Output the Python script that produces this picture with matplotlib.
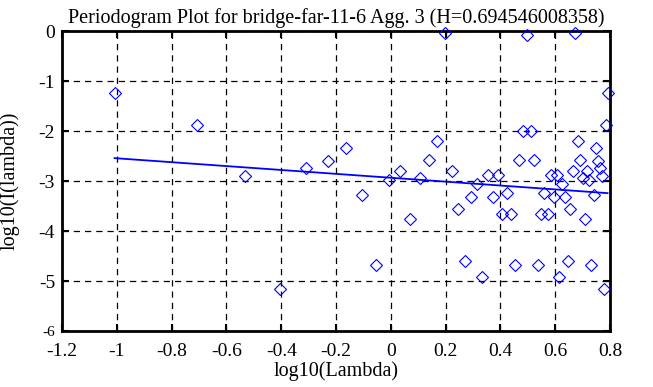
import numpy as np
import matplotlib
matplotlib.use("Agg")
import matplotlib.pyplot as plt

# periodogram values (log10 lambda, log10 I(lambda))
log_lambda = [-1.008, -0.707, -0.531, -0.406, -0.309, -0.230, -0.163, -0.105,
              -0.054, -0.008, 0.033, 0.071, 0.106, 0.138, 0.168, 0.196,
              0.222, 0.247, 0.271, 0.293, 0.314, 0.334, 0.354, 0.372,
              0.390, 0.407, 0.423, 0.439, 0.454, 0.469, 0.483, 0.497,
              0.510, 0.523, 0.536, 0.548, 0.560, 0.572, 0.583, 0.594,
              0.605, 0.615, 0.625, 0.635, 0.645, 0.655, 0.664, 0.673,
              0.682, 0.691, 0.700, 0.708, 0.716, 0.724, 0.732, 0.740,
              0.748, 0.755, 0.763, 0.770, 0.777, 0.784, 0.791]
log_I = [-1.23, -1.87, -2.90, -5.15, -2.73, -2.59, -2.33, -3.28,
         -4.68, -2.98, -2.79, -3.76, -2.93, -2.57, -2.19, -0.03,
         -2.80, -3.56, -4.59, -3.31, -3.06, -4.91, -2.87, -3.31,
         -2.87, -3.65, -3.23, -3.65, -4.67, -2.57, -2.00, -0.08,
         -2.00, -2.57, -4.67, -3.65, -3.23, -3.65, -2.87, -3.31,
         -2.87, -4.91, -3.06, -3.31, -4.59, -3.56, -2.80, -0.03,
         -2.19, -2.57, -2.93, -3.76, -2.79, -2.98, -4.68, -3.28,
         -2.33, -2.59, -2.73, -2.90, -5.15, -1.87, -1.23]
hurst = 0.694546008358
fit_intercept = -2.935

x_ticks = [-1.2, -1, -0.8, -0.6, -0.4, -0.2, 0, 0.2, 0.4, 0.6, 0.8]
x_tick_labels = ["-1.2", "-1", "-0.8", "-0.6", "-0.4", "-0.2", "0", "0.2", "0.4", "0.6", "0.8"]
y_ticks = [-6, -5, -4, -3, -2, -1, 0]
y_tick_labels = ["-6", "-5", "-4", "-3", "-2", "-1", "0"]

plt.rcParams['font.family'] = ['Liberation Serif', 'DejaVu Serif']

fig = plt.figure(figsize=(6.53, 3.87), dpi=100)
ax = fig.add_axes([62/653, 1-331/387, 548/653, 300/387])

x = np.array(log_lambda)
y = np.array(log_I)

# fitted line, slope from H
slope = 1 - 2*hurst
fit_x = np.array([x.min(), x.max()])
ax.plot(fit_x, fit_intercept + slope*fit_x, color="#0000ff", lw=1.3, zorder=3)

ax.plot(x, y, linestyle="none", marker="D", markersize=6.6,
        markerfacecolor="none", markeredgecolor="#0000ff", markeredgewidth=0.8,
        zorder=4, clip_on=False)

ax.set_xlim(-1.2, 0.8)
ax.set_ylim(-6, 0)
ax.set_xticks(x_ticks)
ax.set_xticklabels(x_tick_labels)
ax.set_yticks(y_ticks)
ax.set_yticklabels(y_tick_labels)
ax.tick_params(direction="in", length=5, width=1.5, top=True, right=True,
               labelsize=14, pad=5)
ax.tick_params(axis="x", pad=8.5)
ax.grid(True, color="black", linestyle=(0, (5, 4)), linewidth=0.9)
for s in ax.spines.values():
    s.set_linewidth(2)

# bottom y label is drawn smaller in the original
lab6 = ax.get_yticklabels()[0]
lab6.set_fontsize(11)

ax.set_title("Periodogram Plot for bridge-far-11-6 Agg. 3 (H=0.694546008358)",
             fontsize=14.5, pad=6)
ax.set_xlabel("log10(Lambda)", fontsize=14.5, labelpad=1)
ax.set_ylabel("log10(I(lambda))", fontsize=14.5, labelpad=14)

fig.savefig("out.png", dpi=100)
